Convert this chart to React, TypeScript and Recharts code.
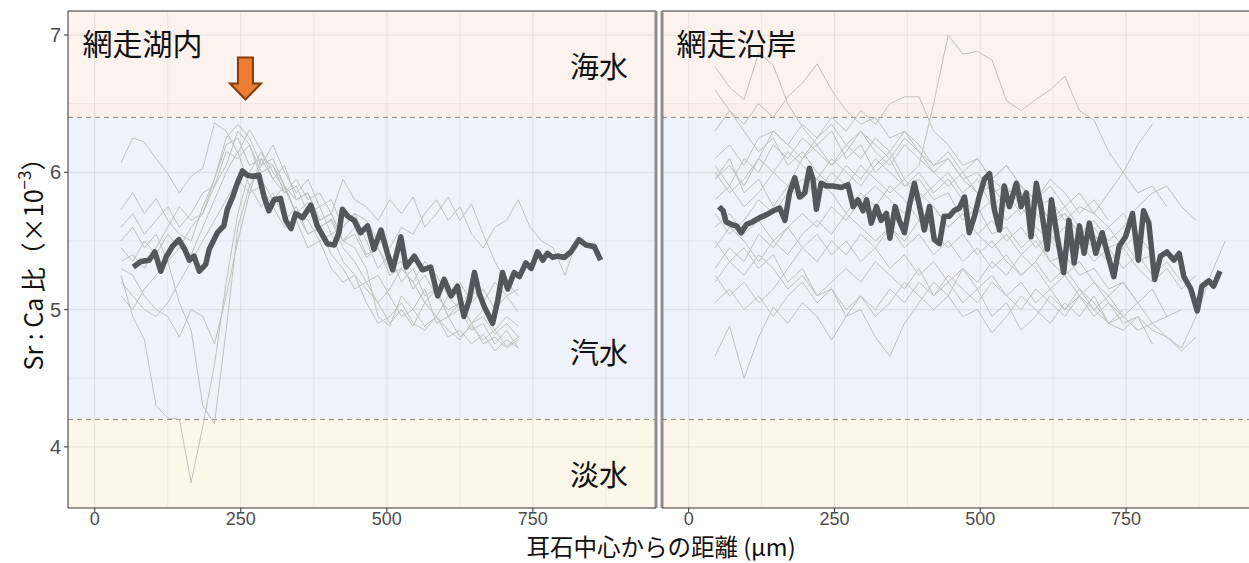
import React from "react"
import {
  LineChart,
  Line,
  XAxis,
  YAxis,
  ReferenceArea,
  ReferenceLine,
  ReferenceDot,
} from "recharts"

// axis setup
const xDomain: [number, number] = [-45.75, 960.75]
const yDomain: [number, number] = [3.555, 7.175]
const xTicks = [0, 250, 500, 750]
const xMinor = [125, 375, 625, 875]
const yTicks = [4, 5, 6, 7]
const yMinor = [4.5, 5.5, 6.5]
const seaLimit = 6.4
const freshLimit = 4.2

// sampling distances (µm) of the individual fish
const lakeDist = [45, 65, 85, 105, 125, 145, 165, 185, 205, 225, 245, 265, 285, 305, 325, 345, 365, 385, 405, 425, 445, 465, 485, 505, 525, 545, 565, 585, 605, 625, 645, 665, 685, 705, 725, 745, 765, 785, 805, 825, 845, 865]
const coastDist = [45, 70, 95, 120, 145, 170, 195, 220, 245, 270, 295, 320, 345, 370, 395, 420, 445, 470, 495, 520, 545, 570, 595, 620, 645, 670, 695, 720, 745, 770, 795, 820, 845, 870, 895, 920]

// 網走湖内 individuals
const lake1 = [6.07, 6.25, 6.22, 6.1, 5.99, 5.85, 5.97, 6.03, 6.36, 6.3, 6.14, 6.31, 6.16, 6.0, 5.88, 5.7, 5.78, 5.6, 5.66, 5.5, 5.55, 5.38, 5.45, 5.3, 5.35, 5.15, 5.25, 5.1, 5.0, 5.05, 4.9, 4.95, 4.82, 4.9, 4.8]
const lake2 = [5.25, 4.95, 4.78, 4.3, 4.21, 4.2, 3.74, 4.15, 4.6, 5.2, 5.7, 6.0, 6.15, 5.95, 6.05, 5.8, 5.85, 5.65, 5.7, 5.5, 5.6, 5.4, 5.45, 5.25, 5.3, 5.2, 5.05, 5.15, 4.95, 5.0, 4.85, 4.9, 4.75, 4.85, 4.72]
const lake3 = [5.5, 5.6, 5.45, 5.55, 5.35, 5.05, 4.85, 4.3, 4.17, 4.85, 5.6, 5.9, 6.05, 6.2, 6.0, 5.85, 5.95, 5.75, 5.8, 5.6, 5.7, 5.5, 5.3, 5.4, 5.2, 5.3, 5.1, 5.15, 4.95, 5.05, 4.9, 5.0, 4.85, 4.95, 4.88]
const lake4 = [5.3, 5.25, 5.1, 5.0, 4.95, 4.8, 5.0, 4.95, 4.75, 5.1, 5.5, 5.85, 6.1, 6.05, 5.9, 5.7, 5.65, 5.5, 5.55, 5.35, 5.25, 5.15, 5.05, 4.9, 5.0, 4.88, 5.05, 4.95, 4.85, 4.78, 4.9, 4.75, 4.8, 4.72, 4.78]
const lake5 = [5.73, 5.85, 5.7, 5.81, 5.65, 5.55, 5.5, 5.75, 5.95, 6.2, 6.25, 6.05, 6.1, 5.95, 5.85, 5.9, 5.7, 5.75, 5.55, 5.6, 5.7, 5.65, 5.5, 5.45, 5.6, 5.55, 5.7, 5.8, 5.65, 5.75, 5.55, 5.45, 5.6, 5.65, 5.8, 5.6, 5.5, 5.45, 5.25, 5.5, 5.45, 5.42]
const lake6 = [5.6, 5.7, 5.55, 5.65, 5.75, 5.6, 5.7, 5.85, 5.9, 6.05, 6.3, 6.2, 6.0, 6.05, 5.85, 5.95, 5.8, 5.85, 5.7, 5.95, 5.8, 5.75, 5.65, 5.8, 5.7, 5.82, 5.6, 5.7, 5.82, 5.65, 5.77, 5.55, 5.35, 5.2, 5.1]
const lake7 = [5.2, 5.1, 5.0, 4.95, 5.05, 5.2, 5.35, 5.5, 5.65, 5.8, 5.95, 5.85, 5.9, 5.75, 5.6, 5.65, 5.45, 5.5, 5.3, 5.2, 5.25, 5.05, 4.9, 4.95, 5.05, 4.9, 4.85, 4.95, 4.8, 4.85, 4.75, 4.82, 4.7, 4.78, 4.72]
const lake8 = [5.45, 5.35, 5.5, 5.4, 5.55, 5.45, 5.6, 5.7, 5.9, 6.15, 6.1, 6.2, 5.95, 5.8, 5.9, 5.7, 5.55, 5.6, 5.4, 5.3, 5.15, 5.2, 5.05, 5.15, 5.3, 5.2, 5.35, 5.25, 5.1, 5.2, 5.05, 5.15, 5.0, 5.1, 4.98]
const lake9 = [5.1, 5.0, 5.15, 5.25, 5.35, 5.45, 5.4, 5.6, 5.8, 6.0, 6.15, 5.9, 5.75, 5.85, 5.65, 5.75, 5.55, 5.6, 5.65, 5.45, 5.35, 5.2, 5.25, 5.1, 4.95, 5.0, 4.88, 4.95, 5.1, 5.0, 5.15, 5.05, 5.2, 5.1, 5.15]
const lake10 = [5.35, 5.4, 5.3, 5.45, 5.6, 5.75, 5.65, 5.7, 5.95, 6.25, 6.35, 6.25, 6.05, 6.1, 5.9, 5.8, 5.85, 5.65, 5.7, 5.5, 5.45, 5.3, 4.95, 4.88, 5.1, 5.0, 5.15, 4.9, 4.95, 4.8, 4.88, 4.78, 4.85, 4.73, 4.8]

// 網走湖内 mean
const lakeMeanX = [66, 79, 93, 103, 113, 123, 133, 144, 154, 162, 170, 179, 190, 196, 210, 221, 227, 236, 244, 253, 261, 270, 281, 290, 298, 307, 318, 327, 336, 344, 356, 370, 381, 398, 410, 418, 424, 433, 444, 455, 467, 478, 490, 501, 510, 524, 533, 547, 561, 575, 587, 598, 610, 621, 632, 641, 650, 658, 667, 681, 690, 698, 707, 718, 727, 738, 747, 758, 767, 775, 784, 792, 804, 815, 829, 841, 855, 866]
const lakeMeanY = [5.31, 5.35, 5.36, 5.42, 5.28, 5.39, 5.46, 5.51, 5.44, 5.36, 5.39, 5.28, 5.33, 5.44, 5.56, 5.61, 5.73, 5.82, 5.92, 6.01, 5.98, 5.97, 5.98, 5.82, 5.72, 5.8, 5.81, 5.65, 5.59, 5.7, 5.67, 5.76, 5.61, 5.48, 5.47, 5.56, 5.73, 5.68, 5.65, 5.56, 5.61, 5.44, 5.58, 5.41, 5.29, 5.53, 5.31, 5.39, 5.29, 5.31, 5.1, 5.22, 5.1, 5.17, 4.95, 5.07, 5.27, 5.12, 5.02, 4.9, 5.07, 5.27, 5.15, 5.27, 5.24, 5.34, 5.3, 5.42, 5.36, 5.41, 5.38, 5.39, 5.38, 5.42, 5.51, 5.47, 5.46, 5.36]

// 網走沿岸 individuals
const coast1 = [5.95, 6.05, 5.9, 6.1, 6.0, 6.15, 6.05, 5.95, 6.1, 6.0, 5.9, 6.05, 6.15, 5.95, 6.05, 6.5, 7.0, 6.86, 6.88, 6.82, 6.52, 6.45, 6.53, 6.6, 6.7, 6.45, 6.38, 6.15, 6.0, 5.85, 5.9, 5.75]
const coast2 = [6.77, 6.62, 6.53, 6.87, 6.78, 6.5, 6.33, 6.2, 6.3, 6.1, 6.2, 6.0, 6.1, 5.9, 5.95, 5.8, 5.85, 5.65, 5.75, 5.55, 5.6, 5.45, 5.55, 5.35, 5.4, 5.25, 5.3, 5.15, 5.2, 5.05]
const coast3 = [6.3, 6.45, 6.35, 6.5, 6.4, 6.55, 6.65, 6.79, 6.6, 6.45, 6.35, 6.4, 6.25, 6.3, 6.15, 6.05, 6.1, 5.95, 6.0, 5.85, 5.9, 5.75, 5.8, 5.65, 5.7, 5.55, 5.6, 5.45, 5.5, 5.35, 5.4]
const coast4 = [6.1, 6.2, 6.05, 6.25, 6.3, 6.2, 6.35, 6.25, 6.4, 6.3, 6.45, 6.35, 6.5, 6.55, 6.55, 6.3, 6.2, 6.05, 6.1, 5.95, 5.85, 5.9, 5.75, 5.8, 5.65, 5.75, 5.7, 5.85, 6.0, 6.2, 6.35]
const coast5 = [4.66, 4.88, 4.5, 4.8, 5.02, 4.9, 5.05, 4.95, 4.78, 4.95, 5.1, 5.0, 5.15, 5.05, 5.2, 5.1, 5.25, 5.15, 5.05, 5.2, 5.1, 5.0, 5.15, 5.05, 4.95, 5.1, 5.0, 4.9, 5.0]
const coast6 = [5.5, 5.35, 5.45, 5.3, 5.4, 5.2, 5.3, 5.1, 5.15, 4.95, 5.0, 4.8, 4.66, 4.9, 5.05, 5.2, 5.1, 5.3, 5.2, 5.35, 5.25, 5.4, 5.3, 5.15, 5.25, 5.1, 5.2, 5.05, 4.95, 5.05, 4.9, 4.95]
const coast7 = [5.6, 5.7, 5.55, 5.65, 5.5, 5.6, 5.45, 5.55, 5.4, 5.5, 5.35, 5.45, 5.3, 5.4, 5.25, 5.35, 5.2, 5.3, 5.15, 5.25, 5.1, 5.2, 5.05, 5.15, 5.0, 5.1, 4.95, 5.05, 4.9, 4.95, 4.85, 4.8, 4.72, 4.95, 5.25, 5.5]
const coast8 = [5.2, 5.35, 5.25, 5.4, 5.3, 5.15, 5.25, 5.1, 5.2, 5.3, 5.2, 5.35, 5.25, 5.15, 5.3, 5.1, 5.2, 5.05, 5.15, 4.95, 5.05, 4.85, 4.95, 5.1, 5.0, 5.15, 5.05, 4.9, 4.95, 4.85]
const coast9 = [5.95, 6.1, 5.85, 5.95, 5.75, 5.9, 5.8, 5.95, 5.85, 5.7, 5.85, 5.75, 5.9, 5.8, 5.65, 5.75, 5.6, 5.7, 5.55, 5.65, 5.5, 5.6, 5.45, 5.55, 5.4, 5.5, 5.35, 5.45, 5.3, 5.4, 5.25, 5.35, 5.2]
const coast10 = [5.7, 5.55, 5.65, 5.8, 5.7, 5.85, 5.95, 5.85, 6.0, 5.9, 6.05, 5.95, 5.85, 5.95, 5.8, 5.9, 6.0, 5.85, 5.95, 5.75, 5.85, 5.7, 5.8, 5.65, 5.75, 5.6, 5.5, 5.6, 5.45, 5.55, 5.4]
const coast11 = [5.3, 5.45, 5.35, 5.55, 5.45, 5.6, 5.7, 5.6, 5.75, 5.65, 5.8, 5.9, 5.8, 5.7, 5.85, 5.75, 5.6, 5.7, 5.55, 5.45, 5.55, 5.4, 5.5, 5.35, 5.25, 5.35, 5.2, 5.1, 5.2, 5.05, 5.15, 4.95, 5.0]
const coast12 = [6.05, 5.9, 6.1, 6.0, 6.2, 6.1, 6.25, 6.15, 6.05, 6.2, 6.1, 6.25, 6.15, 6.3, 6.2, 6.05, 6.15, 6.0, 6.1, 5.95, 6.05, 5.9, 5.8, 5.9, 5.75, 5.85, 5.7, 5.6, 5.7, 5.55]
const coast13 = [5.45, 5.6, 5.5, 5.35, 5.5, 5.4, 5.55, 5.65, 5.55, 5.7, 5.6, 5.5, 5.6, 5.45, 5.55, 5.4, 5.5, 5.35, 5.45, 5.3, 5.4, 5.25, 5.35, 5.5, 5.4, 5.55, 5.45, 5.35, 5.45, 5.3, 5.2, 5.3, 5.15, 5.25]
const coast14 = [5.05, 5.15, 5.0, 5.1, 4.95, 5.1, 5.2, 5.05, 5.15, 5.0, 5.1, 4.95, 5.05, 5.2, 5.1, 5.0, 5.1, 4.95, 5.0, 4.83, 4.95, 5.1, 5.0, 4.9, 5.05, 4.95, 5.1, 4.9, 4.85, 4.95, 4.75]
const coast15 = [6.6, 6.45, 6.3, 6.15, 6.25, 6.05, 6.15, 6.0, 5.9, 6.05, 5.95, 6.1, 6.0, 5.9, 6.0, 5.85, 5.95, 5.8, 5.7, 5.8, 5.65, 5.75, 5.6, 5.5, 5.6, 5.45, 5.55, 5.4]
const coast16 = [5.8, 5.9, 5.75, 5.85, 6.0, 5.9, 6.1, 6.2, 6.05, 6.15, 6.3, 6.2, 6.1, 6.25, 6.15, 6.0, 6.1, 5.95, 5.85, 5.9, 5.75, 5.85, 5.7, 5.6, 5.7, 5.55, 5.65, 5.5, 5.6, 5.75, 5.85, 5.9, 5.75, 5.65]
const coast17 = [5.25, 5.1, 5.2, 5.05, 5.15, 5.3, 5.45, 5.35, 5.5, 5.4, 5.55, 5.45, 5.6, 5.5, 5.65, 5.55, 5.45, 5.55, 5.4, 5.5, 5.35, 5.25, 5.35, 5.2, 5.3, 5.15, 5.0, 5.1, 4.95, 4.85, 4.9, 4.8, 4.7, 4.8]
const coast18 = [6.0, 5.85, 5.95, 6.1, 6.3, 6.2, 6.1, 6.25, 6.35, 6.2, 6.3, 6.15, 6.05, 6.2, 6.1, 6.0, 5.9, 6.0, 5.85, 5.95, 6.05, 5.9, 5.8, 5.95, 5.85, 5.7, 5.8, 5.65]

// 網走沿岸 mean
const coastMeanX = [52, 59, 64, 73, 82, 90, 99, 110, 122, 133, 145, 156, 165, 173, 182, 190, 199, 207, 213, 219, 227, 236, 247, 262, 273, 282, 290, 299, 305, 313, 322, 330, 339, 345, 354, 361, 370, 378, 387, 396, 404, 413, 421, 430, 438, 447, 455, 464, 473, 481, 490, 498, 507, 516, 524, 533, 541, 550, 562, 570, 579, 587, 596, 604, 615, 622, 632, 643, 652, 661, 670, 678, 687, 698, 709, 718, 729, 738, 749, 761, 771, 780, 789, 799, 809, 820, 832, 841, 849, 861, 872, 880, 892, 900, 911]
const coastMeanY = [5.75, 5.72, 5.64, 5.62, 5.61, 5.56, 5.62, 5.64, 5.67, 5.69, 5.72, 5.74, 5.65, 5.85, 5.96, 5.82, 5.85, 6.03, 5.95, 5.73, 5.92, 5.9, 5.9, 5.89, 5.91, 5.75, 5.8, 5.72, 5.8, 5.63, 5.75, 5.65, 5.7, 5.52, 5.75, 5.65, 5.56, 5.75, 5.92, 5.75, 5.58, 5.75, 5.51, 5.48, 5.68, 5.68, 5.72, 5.74, 5.82, 5.56, 5.68, 5.82, 5.95, 5.99, 5.73, 5.58, 5.9, 5.75, 5.92, 5.75, 5.85, 5.53, 5.92, 5.75, 5.44, 5.8, 5.53, 5.27, 5.65, 5.34, 5.61, 5.41, 5.63, 5.41, 5.56, 5.41, 5.24, 5.46, 5.53, 5.7, 5.36, 5.72, 5.63, 5.22, 5.39, 5.42, 5.36, 5.41, 5.24, 5.15, 4.99, 5.17, 5.21, 5.17, 5.28]

const lakeFish = [lake1, lake2, lake3, lake4, lake5, lake6, lake7, lake8, lake9, lake10]
const coastFish = [coast1, coast2, coast3, coast4, coast5, coast6, coast7, coast8, coast9, coast10, coast11, coast12, coast13, coast14, coast15, coast16, coast17, coast18]

const zones = [
  { name: "海水", y: 6.78 },
  { name: "汽水", y: 4.7 },
  { name: "淡水", y: 3.81 },
]

const jpFont = "'Noto Sans CJK JP', 'Noto Sans', sans-serif"
const tickFont = "'Liberation Sans Narrow', 'Liberation Sans', Arial, sans-serif"

const toPoints = (xs: number[], ys: number[]) => ys.map((v, i) => ({ d: xs[i], sr: v }))

interface PanelProps {
  title: string
  dist: number[]
  fish: number[][]
  meanX: number[]
  meanY: number[]
  showY: boolean
  showArrow: boolean
  width: number
  margin: { top: number; right: number; bottom: number; left: number }
}

function Panel({ title, dist, fish, meanX, meanY, showY, showArrow, width, margin }: PanelProps) {
  return (
    <LineChart width={width} height={563} margin={margin}>
      <XAxis
        dataKey="d"
        type="number"
        domain={xDomain}
        allowDataOverflow
        ticks={xTicks}
        height={28}
        tickSize={4}
        tickMargin={0}
        stroke="#333333"
        tick={{ fill: "#4d4d4d", fontSize: 18, fontFamily: tickFont }}
      />
      <YAxis
        type="number"
        domain={yDomain}
        allowDataOverflow
        ticks={yTicks}
        hide={!showY}
        width={68}
        tickSize={4}
        tickMargin={3}
        stroke="#333333"
        tick={{ fill: "#4d4d4d", fontSize: 20, fontFamily: tickFont }}
      />

      <ReferenceArea y1={seaLimit} y2={yDomain[1]} fill="#fcf3ee" fillOpacity={1} stroke="none" zIndex={-300} />
      <ReferenceArea y1={seaLimit} y2={6.5} fill="#faefeb" fillOpacity={1} stroke="none" zIndex={-300} />
      <ReferenceArea y1={freshLimit} y2={seaLimit} fill="#eff2fa" fillOpacity={1} stroke="none" zIndex={-300} />
      <ReferenceArea y1={yDomain[0]} y2={freshLimit} fill="#fdf7e9" fillOpacity={1} stroke="none" zIndex={-300} />

      {yTicks.map((v) => (
        <ReferenceLine key={"gy" + v} y={v} stroke="rgba(0,0,0,0.07)" strokeWidth={1.2} zIndex={-250} />
      ))}
      {yMinor.map((v) => (
        <ReferenceLine key={"my" + v} y={v} stroke="rgba(0,0,0,0.05)" strokeWidth={1} zIndex={-250} />
      ))}
      {xTicks.map((v) => (
        <ReferenceLine key={"gx" + v} x={v} stroke="rgba(0,0,0,0.07)" strokeWidth={1.2} zIndex={-250} />
      ))}
      {xMinor.map((v) => (
        <ReferenceLine key={"mx" + v} x={v} stroke="rgba(0,0,0,0.05)" strokeWidth={1} zIndex={-250} />
      ))}

      <ReferenceLine y={seaLimit} stroke="#8a8a8a" strokeDasharray="5 4" zIndex={-200} />
      <ReferenceLine y={freshLimit} stroke="#8a8a8a" strokeDasharray="5 4" zIndex={-200} />
      <ReferenceLine y={yDomain[1]} stroke="#333333" zIndex={-200} />
      {showY ? (
        <ReferenceLine x={xDomain[1]} stroke="#8c8c8c" strokeWidth={3} zIndex={-200} />
      ) : (
        <ReferenceLine x={xDomain[0]} stroke="#8c8c8c" strokeWidth={3} zIndex={-200} />
      )}

      {fish.map((vals, i) => (
        <Line
          key={"f" + i}
          data={toPoints(dist, vals)}
          dataKey="sr"
          stroke="#c0c0c0"
          strokeWidth={1}
          dot={false}
          activeDot={false}
          isAnimationActive={false}
        />
      ))}
      <Line
        data={toPoints(meanX, meanY)}
        dataKey="sr"
        stroke="#54565d"
        strokeWidth={5.5}
        strokeLinejoin="round"
        dot={false}
        activeDot={false}
        isAnimationActive={false}
      />

      <ReferenceDot
        x={-21}
        y={6.95}
        r={0}
        zIndex={2000}
        shape={(p: any) => (
          <text x={p.cx} y={p.cy} dominantBaseline="central" fontSize={30} fontFamily={jpFont} fill="#111">
            {title}
          </text>
        )}
      />
      {showY &&
        zones.map((z) => (
          <ReferenceDot
            key={z.name}
            x={913}
            y={z.y}
            r={0}
            zIndex={2000}
            shape={(p: any) => (
              <text x={p.cx} y={p.cy} textAnchor="end" dominantBaseline="central" fontSize={29} fontFamily={jpFont} fill="#111">
                {z.name}
              </text>
            )}
          />
        ))}
      {showArrow && (
        <ReferenceDot
          x={258}
          y={6.53}
          r={0}
          zIndex={2000}
          shape={(p: any) => {
            const { cx, cy } = p
            const pts = [
              [-7.5, -42], [7.5, -42], [7.5, -16], [15.5, -16], [0, 0], [-15.5, -16], [-7.5, -16],
            ]
              .map(([dx, dy]) => `${cx + dx},${cy + dy}`)
              .join(" ")
            return <polygon points={pts} fill="#ed7d31" stroke="#843c0c" strokeWidth={2} strokeLinejoin="miter" />
          }}
        />
      )}
    </LineChart>
  )
}

export default function App() {
  return (
    <div style={{ position: "absolute", left: 0, top: 0, width: 1249, height: 563, background: "#fff" }}>
      <div style={{ position: "absolute", left: 0, top: 0 }}>
        <Panel
          title="網走湖内"
          dist={lakeDist}
          fish={lakeFish}
          meanX={lakeMeanX}
          meanY={lakeMeanY}
          showY
          showArrow
          width={660}
          margin={{ top: 11, right: 4, bottom: 27, left: 0 }}
        />
      </div>
      <div style={{ position: "absolute", left: 660, top: 0 }}>
        <Panel
          title="網走沿岸"
          dist={coastDist}
          fish={coastFish}
          meanX={coastMeanX}
          meanY={coastMeanY}
          showY={false}
          showArrow={false}
          width={589}
          margin={{ top: 11, right: 0, bottom: 27, left: 2 }}
        />
      </div>
      {/* axis titles */}
      <svg
        width={1249}
        height={563}
        style={{ position: "absolute", left: 0, top: 0, pointerEvents: "none" }}
      >
        <text
          x={661}
          y={556}
          textAnchor="middle"
          fontFamily={jpFont}
          fontSize={23.5}
          fill="#111"
        >
          耳石中心からの距離 (μm)
        </text>
        <text
          transform="translate(32,258) rotate(-90)"
          textAnchor="middle"
          dominantBaseline="central"
          fontFamily={jpFont}
          fontSize={25}
          fill="#111"
        >
          Sr : Ca 比（×10
          <tspan fontSize={17} dy={-9}>
            −3
          </tspan>
          <tspan dy={9}>）</tspan>
        </text>
      </svg>
    </div>
  )
}
